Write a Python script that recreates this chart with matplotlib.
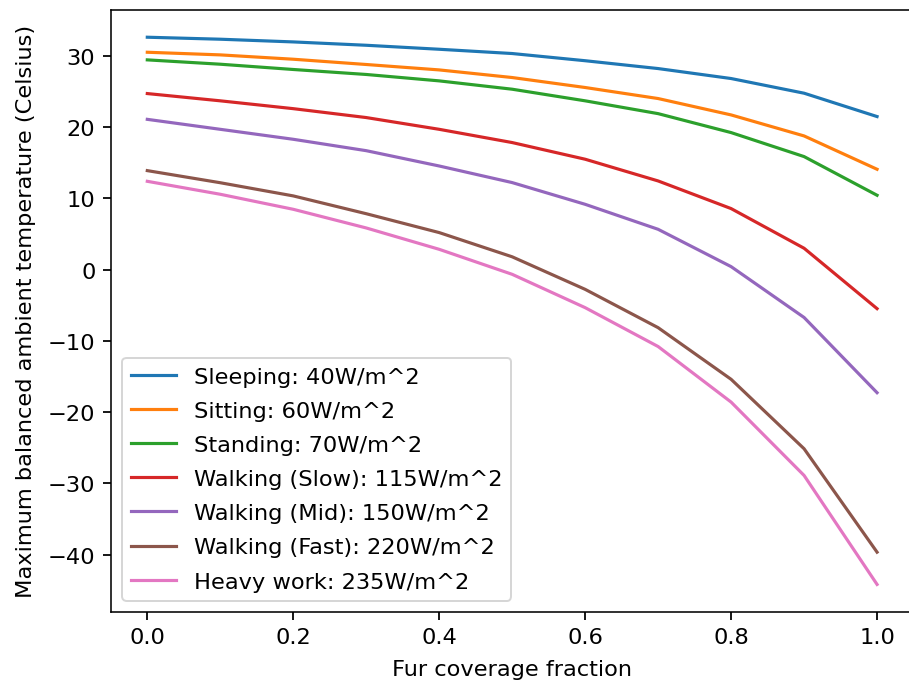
import matplotlib
matplotlib.use("Agg")
import matplotlib.pyplot as plt
import numpy as np

fur_fraction = [0.0, 0.1, 0.2, 0.3, 0.4, 0.5, 0.6, 0.7, 0.8, 0.9, 1.0]

labels = [
    "Sleeping: 40W/m^2",
    "Sitting: 60W/m^2",
    "Standing: 70W/m^2",
    "Walking (Slow): 115W/m^2",
    "Walking (Mid): 150W/m^2",
    "Walking (Fast): 220W/m^2",
    "Heavy work: 235W/m^2",
]

sleeping = [32.63, 32.35, 31.97, 31.5, 30.94, 30.34, 29.33, 28.23, 26.83, 24.77, 21.49]
sitting = [30.52, 30.15, 29.54, 28.8, 28.04, 26.97, 25.57, 24.02, 21.72, 18.77, 14.09]
standing = [29.45, 28.84, 28.1, 27.4, 26.5, 25.33, 23.7, 21.9, 19.24, 15.87, 10.44]
walking_slow = [24.72, 23.7, 22.6, 21.35, 19.7, 17.84, 15.5, 12.45, 8.57, 3.0, -5.48]
walking_mid = [21.1, 19.7, 18.3, 16.7, 14.55, 12.22, 9.17, 5.66, 0.42, -6.72, -17.28]
walking_fast = [13.9, 12.2, 10.35, 7.85, 5.2, 1.8, -2.77, -8.15, -15.4, -25.15, -39.67]
heavy_work = [12.4, 10.58, 8.47, 5.85, 2.85, -0.66, -5.34, -10.8, -18.6, -28.9, -44.2]

series = [sleeping, sitting, standing, walking_slow, walking_mid, walking_fast, heavy_work]

plt.rcParams["font.size"] = 11.4
plt.rcParams["xtick.major.size"] = 4.3
plt.rcParams["ytick.major.size"] = 4.3
plt.rcParams["xtick.major.width"] = 0.9
plt.rcParams["ytick.major.width"] = 0.9

dpi = 142
fig = plt.figure(figsize=(909 / dpi, 683 / dpi), dpi=dpi)
ax = fig.add_axes([0.1219, 0.1028, 0.8831, 0.8813])

for vals, lab in zip(series, labels):
    ax.plot(fur_fraction, vals, label=lab, linewidth=1.6)

ax.set_xlabel("Fur coverage fraction", labelpad=6)
ax.set_ylabel("Maximum balanced ambient temperature (Celsius)", labelpad=6)
ax.legend(loc="lower left", labelspacing=0.63)

fig.savefig("out.png", dpi=dpi)
